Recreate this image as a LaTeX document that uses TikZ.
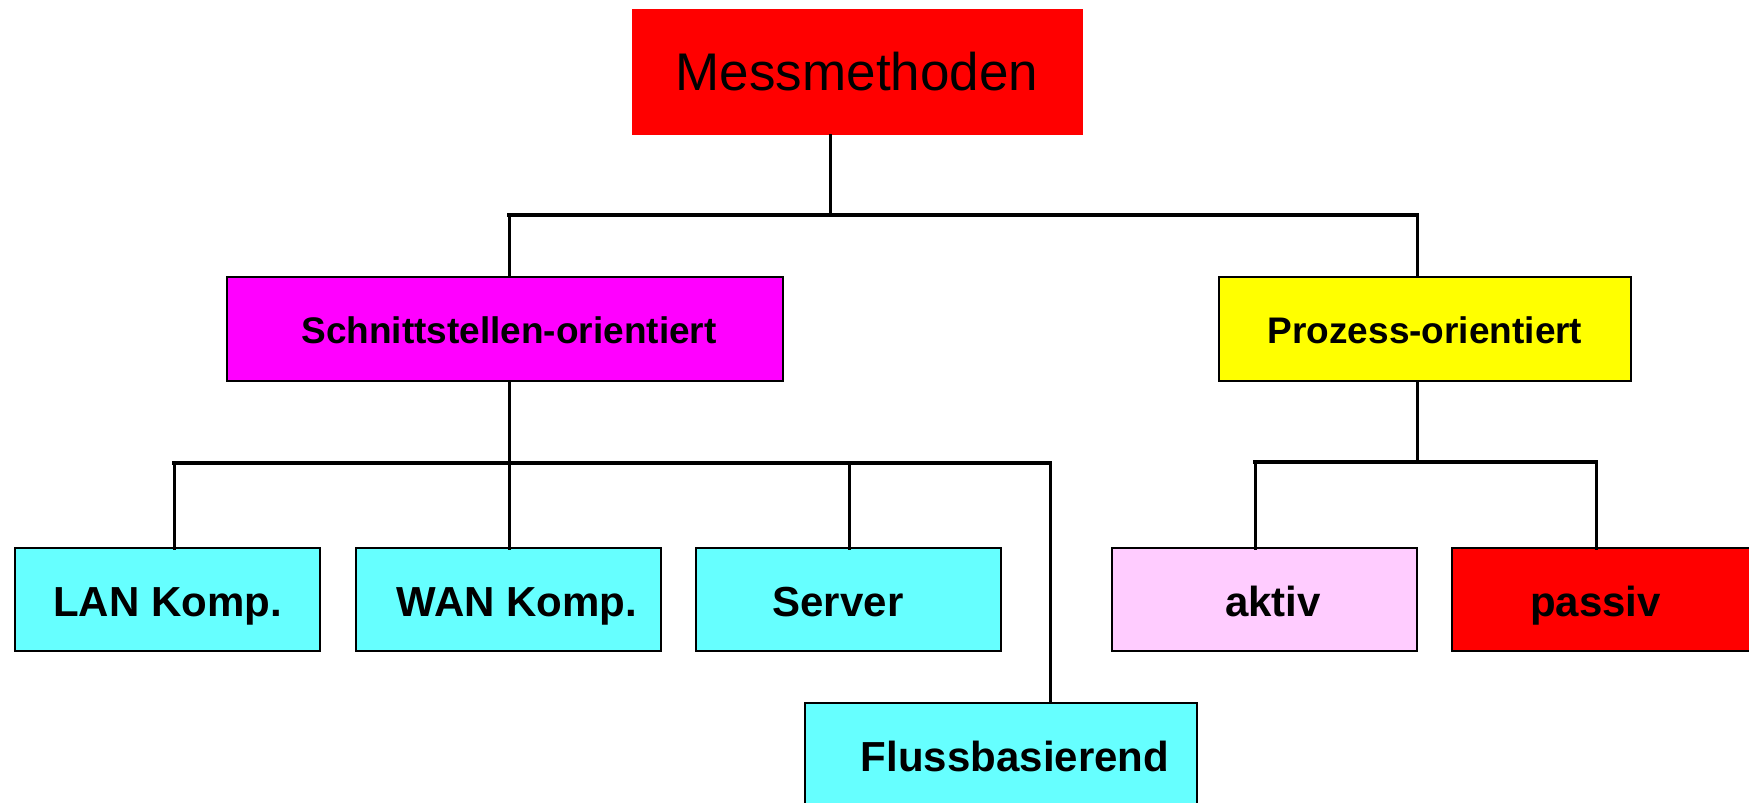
\documentclass[tikz,border=0pt]{standalone}
\usepackage{fontspec}
\setmainfont{Liberation Sans}
\definecolor{boxred}{HTML}{FF0000}
\definecolor{boxmagenta}{HTML}{FF00FF}
\definecolor{boxyellow}{HTML}{FFFF00}
\definecolor{boxcyan}{HTML}{66FFFF}
\definecolor{boxpink}{HTML}{FFCCFF}
\begin{document}
\begin{tikzpicture}[x=1pt,y=-1pt,
  box/.style={rectangle,draw=black,line width=2pt,inner sep=0pt,
    minimum height=103pt,text height=33pt,text depth=0pt,
    font=\fontsize{42}{48}\selectfont\bfseries},
  midbox/.style={box,minimum height=104pt,text height=28pt,
    font=\fontsize{37}{44}\selectfont\bfseries},
  leafbox/.style={box,minimum width=305pt},
  link/.style={line width=3.5pt,line cap=rect},
  drop/.style={line width=3pt}]
\useasboundingbox (0,0) rectangle (1749,803);

% top level
\node[rectangle,fill=boxred,draw=boxred,inner sep=0pt,minimum width=450pt,
  minimum height=125pt,text height=37pt,text depth=0pt,
  font=\fontsize{53}{60}\selectfont] (mm) at (857,71.5) {Messmethoden};

% second level
\node[midbox,fill=boxmagenta,minimum width=556pt] (so) at (505,329) {\hspace*{8pt}Schnittstellen-orientiert};
\node[midbox,fill=boxyellow,minimum width=412pt] (po) at (1425,329) {Prozess-orientiert};

% leaves
\node[leafbox,fill=boxcyan] (lan) at (167.5,599.5) {LAN Komp.};
\node[leafbox,fill=boxcyan] (wan) at (508,599.5) {\hspace*{18pt}WAN Komp.};
\node[leafbox,fill=boxcyan] (srv) at (848,599.5) {Server\hspace*{20pt}};
\node[box,fill=boxcyan,minimum width=392pt] (flb) at (1001,754.5) {\hspace*{28pt}Flussbasierend};
\node[leafbox,fill=boxpink] (akt) at (1264,599.5) {\hspace*{18pt}aktiv};
\node[leafbox,fill=boxred] (pas) at (1604.5,599.5) {passiv\hspace*{18pt}};

% junction points
\coordinate (j0) at (830,215);
\coordinate (jl) at (509,215);
\coordinate (jr) at (1417,215);
\coordinate (k0) at (509,463);
\coordinate (kl) at (174,463);
\coordinate (kr) at (1050,463);
\coordinate (m0) at (1417,462);
\coordinate (ml) at (1255,462);
\coordinate (mr) at (1596,462);

% upper tree
\draw[drop] (mm.south -| j0) -- (j0);
\draw[link] (jl) -- (jr);
\draw[drop] (jl) -- (so.north -| jl);
\draw[drop] (jr) -- (po.north -| jr);

% interface-oriented branch
\draw[drop] (so.south -| k0) -- (k0);
\draw[link] (kl) -- (kr);
\draw[drop] (kl) -- ([yshift=-3pt]lan.north -| kl);
\draw[drop] (k0) -- ([yshift=-3pt]wan.north -| k0);
\draw[drop] (849,463) -- ([yshift=-3pt]srv.north -| 849,0);
\draw[drop] (kr) -- ([yshift=-2pt]flb.north -| kr);

% process-oriented branch
\draw[drop] (po.south -| m0) -- (m0);
\draw[link] (ml) -- (mr);
\draw[drop] (ml) -- ([yshift=-3pt]akt.north -| ml);
\draw[drop] (mr) -- ([yshift=-3pt]pas.north -| mr);
\end{tikzpicture}
\end{document}
